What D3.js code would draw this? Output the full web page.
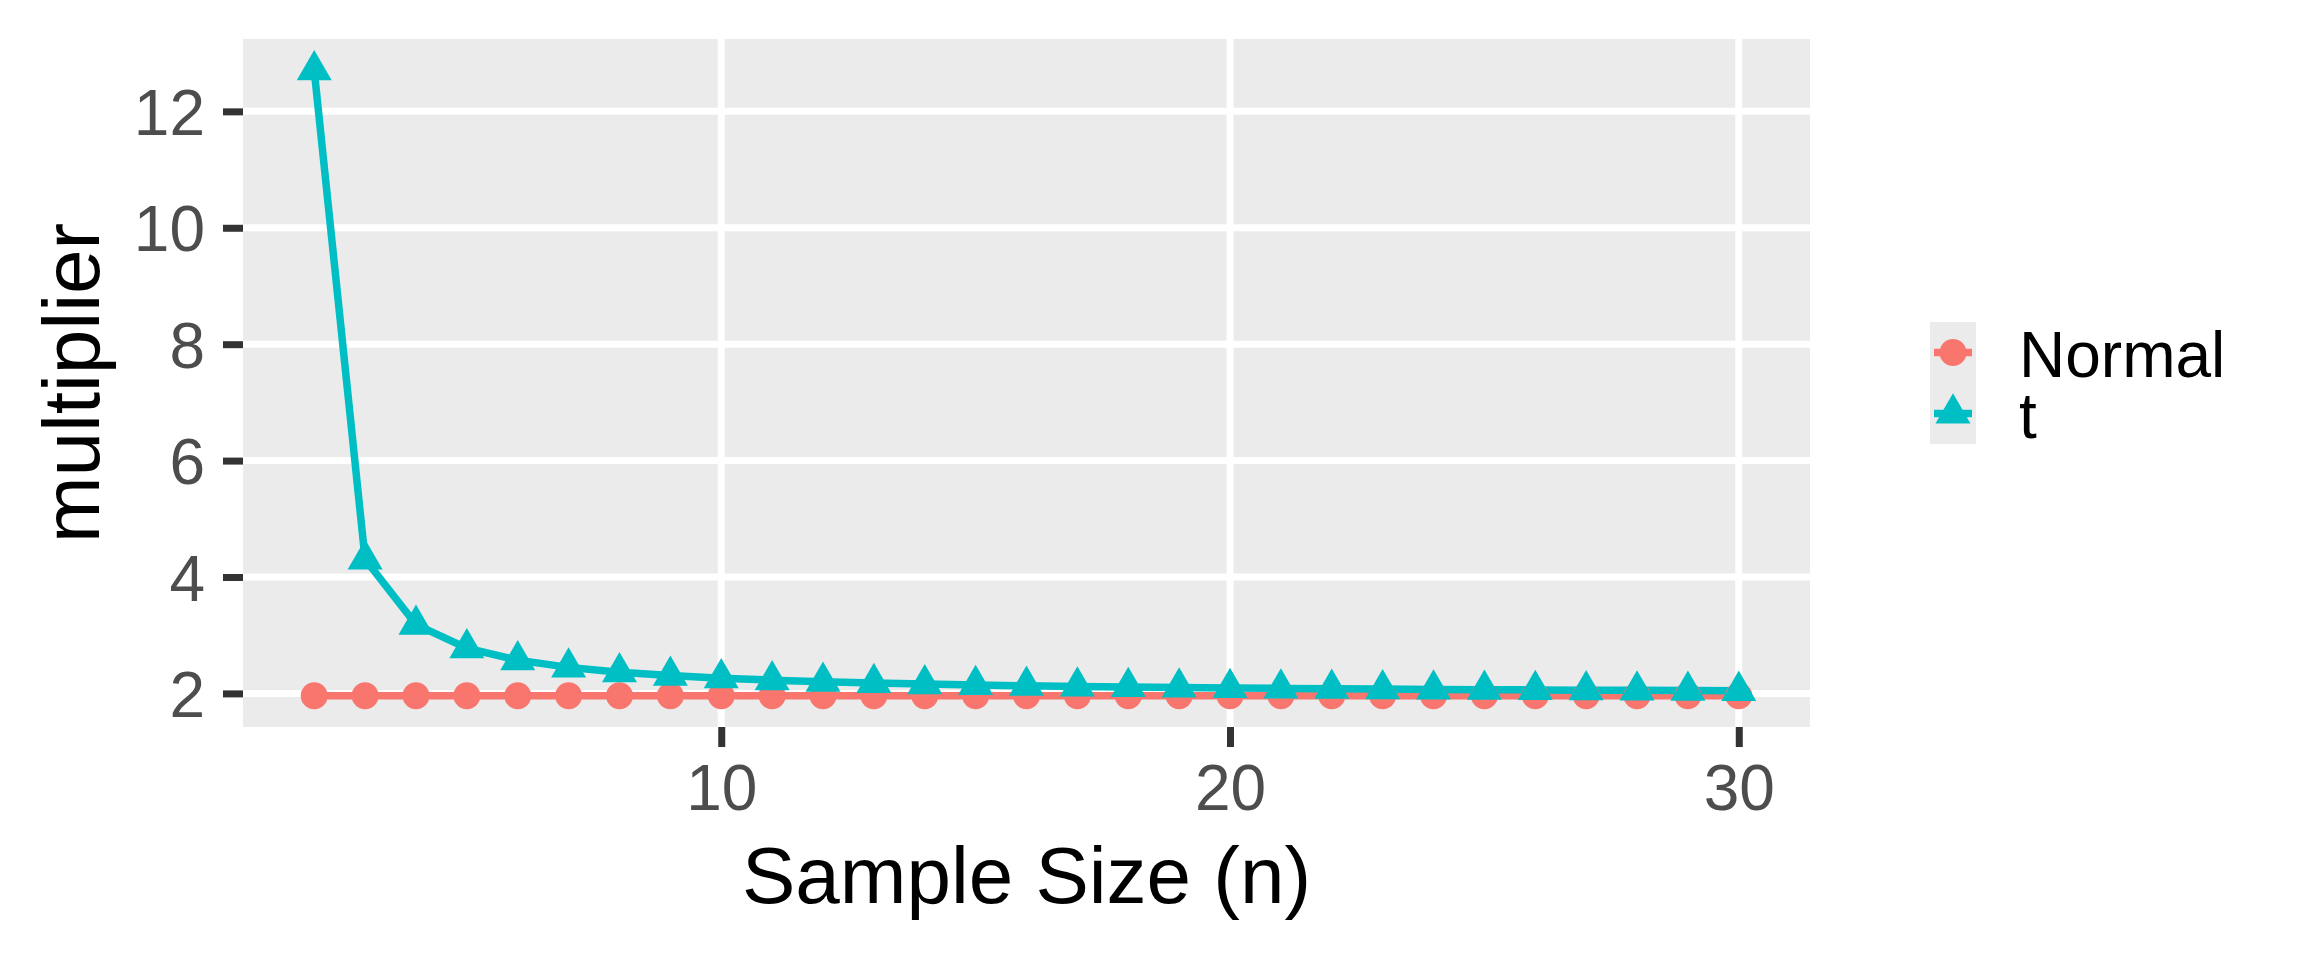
<!DOCTYPE html>
<html>
<head>
<meta charset="utf-8">
<script src="https://cdn.jsdelivr.net/npm/d3@7"></script>
<style>
  body { margin: 0; background: #fff; }
  text { font-family: "Liberation Sans", Arial, sans-serif; }
</style>
</head>
<body>
<svg id="chart"></svg>
<script>
// sample sizes and the two multipliers (normal z and t quantile, 95%)
let sampleSizes = [2,3,4,5,6,7,8,9,10,11,12,13,14,15,16,17,18,19,20,21,22,23,24,25,26,27,28,29,30];
let normalMult = [1.96,1.96,1.96,1.96,1.96,1.96,1.96,1.96,1.96,1.96,1.96,1.96,1.96,1.96,1.96,
                  1.96,1.96,1.96,1.96,1.96,1.96,1.96,1.96,1.96,1.96,1.96,1.96,1.96,1.96];
let tMult = [12.706,4.303,3.182,2.776,2.571,2.447,2.365,2.306,2.262,2.228,2.201,2.179,2.160,2.145,
             2.131,2.120,2.110,2.101,2.093,2.086,2.080,2.074,2.069,2.064,2.060,2.056,2.052,2.048,2.045];
let seriesNames = ["Normal", "t"];
let xTicks = [10, 20, 30];
let yTicks = [2, 4, 6, 8, 10, 12];

let width = 2304, height = 960;
let panel = {left: 243, top: 39, right: 1810, bottom: 727};
let colors = {"Normal": "#F8766D", "t": "#00BFC4"};

let svg = d3.select("#chart")
    .attr("width", width)
    .attr("height", height);
svg.append("rect").attr("width", width).attr("height", height).attr("fill", "#fff");

let series = seriesNames.map((name, i) => ({
    name: name,
    values: sampleSizes.map((n, j) => ({n: n, v: (i == 0 ? normalMult : tMult)[j]}))
}));

// ggplot style 5% expansion
let xExt = d3.extent(sampleSizes);
let xPad = (xExt[1] - xExt[0]) * 0.05;
let allY = normalMult.concat(tMult);
let yExt = d3.extent(allY);
let yPad = (yExt[1] - yExt[0]) * 0.05;

let x = d3.scaleLinear()
    .domain([xExt[0] - xPad, xExt[1] + xPad])
    .range([panel.left, panel.right]);
let y = d3.scaleLinear()
    .domain([yExt[0] - yPad, yExt[1] + yPad])
    .range([panel.bottom, panel.top]);

// panel background + grid
svg.append("rect")
    .attr("x", panel.left).attr("y", panel.top)
    .attr("width", panel.right - panel.left)
    .attr("height", panel.bottom - panel.top)
    .attr("fill", "#EBEBEB");

let grid = svg.append("g");
grid.selectAll(".gy").data(yTicks).join("line")
    .attr("x1", panel.left).attr("x2", panel.right)
    .attr("y1", d => y(d)).attr("y2", d => y(d))
    .attr("stroke", "#fff").attr("stroke-width", 7);
grid.selectAll(".gx").data(xTicks).join("line")
    .attr("y1", panel.top).attr("y2", panel.bottom)
    .attr("x1", d => x(d)).attr("x2", d => x(d))
    .attr("stroke", "#fff").attr("stroke-width", 7);

// axes
let xAxis = svg.append("g")
    .attr("transform", `translate(0,${panel.bottom})`)
    .call(d3.axisBottom(x).tickValues(xTicks).tickSize(20).tickPadding(18));
let yAxis = svg.append("g")
    .attr("transform", `translate(${panel.left},0)`)
    .call(d3.axisLeft(y).tickValues(yTicks).tickSize(20).tickPadding(18));

[xAxis, yAxis].forEach(ax => {
    ax.select(".domain").remove();
    ax.selectAll(".tick line").attr("stroke", "#333333").attr("stroke-width", 7);
    ax.selectAll(".tick text")
        .attr("fill", "#4D4D4D")
        .style("font-family", '"Liberation Sans", Arial, sans-serif')
        .style("font-size", "64px");
});
xAxis.selectAll(".tick text").attr("dy", "0.71em");
yAxis.selectAll(".tick text").attr("dy", "0.36em");

// lines then points
let line = d3.line().x(d => x(d.n)).y(d => y(d.v));
svg.append("g").selectAll("path").data(series).join("path")
    .attr("d", d => line(d.values))
    .attr("fill", "none")
    .attr("stroke", d => colors[d.name])
    .attr("stroke-width", 7.5);

let tri = d3.symbol().type(d3.symbolTriangle).size(530);
series.forEach(s => {
    let g = svg.append("g");
    if (s.name == "Normal") {
        g.selectAll("circle").data(s.values).join("circle")
            .attr("cx", d => x(d.n)).attr("cy", d => y(d.v))
            .attr("r", 13.5)
            .attr("fill", colors[s.name]);
    } else {
        g.selectAll("path").data(s.values).join("path")
            .attr("d", tri)
            .attr("transform", d => `translate(${x(d.n)},${y(d.v)})`)
            .attr("fill", colors[s.name]);
    }
});

// axis titles
svg.append("text")
    .attr("x", (panel.left + panel.right) / 2)
    .attr("y", 903)
    .attr("text-anchor", "middle")
    .attr("font-size", 80)
    .attr("fill", "#000")
    .text("Sample Size (n)");
svg.append("text")
    .attr("transform", `translate(99,${(panel.top + panel.bottom) / 2}) rotate(-90)`)
    .attr("text-anchor", "middle")
    .attr("font-size", 80)
    .attr("fill", "#000")
    .text("multiplier");

// legend
let legend = svg.append("g").attr("transform", "translate(1930,322)");
let keyW = 46, keyH = 61;
seriesNames.forEach((name, i) => {
    let k = legend.append("g").attr("transform", `translate(0,${i * keyH})`);
    k.append("rect").attr("width", keyW).attr("height", keyH).attr("fill", "#EBEBEB");
    k.append("line")
        .attr("x1", 4).attr("x2", keyW - 4)
        .attr("y1", keyH / 2).attr("y2", keyH / 2)
        .attr("stroke", colors[name]).attr("stroke-width", 7.5);
    if (name == "Normal") {
        k.append("circle").attr("cx", keyW / 2).attr("cy", keyH / 2).attr("r", 13.5)
            .attr("fill", colors[name]);
    } else {
        k.append("path").attr("d", tri)
            .attr("transform", `translate(${keyW / 2},${keyH / 2})`)
            .attr("fill", colors[name]);
    }
    k.append("text")
        .attr("x", 89).attr("y", keyH / 2 + 24)
        .attr("font-size", 64)
        .attr("fill", "#000")
        .text(name);
});
</script>
</body>
</html>
